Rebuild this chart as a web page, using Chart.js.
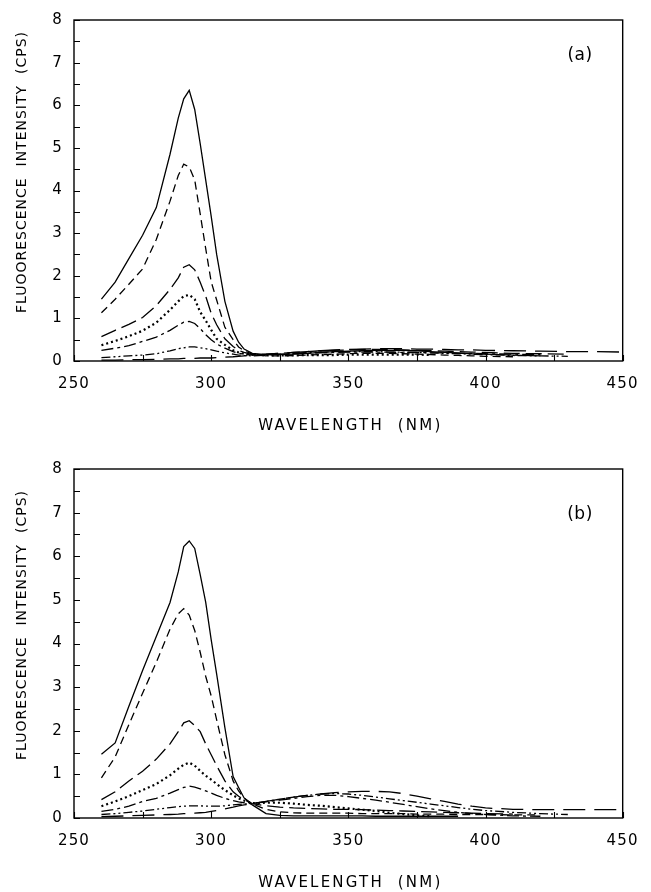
<!DOCTYPE html>
<html>
<head>
<meta charset="utf-8">
<script src="https://cdn.jsdelivr.net/npm/chart.js@4.4.1/dist/chart.umd.min.js"></script>
<style>
    body { margin: 0; background: #fff; }
    canvas { display: block; }
</style>
</head>
<body>
<canvas id="chartA" width="651" height="446"></canvas>
<canvas id="chartB" width="651" height="446"></canvas>
<script>
// wavelength grid (nm), shared by every curve
const wavelength = [260, 265, 270, 275, 280, 285, 288, 290, 292, 294, 296, 298, 300, 302, 305, 308, 310, 312, 315, 320,
    325, 330, 335, 340, 345, 350, 355, 360, 365, 370, 375, 380, 385, 390, 395, 400, 410, 420, 430, 440, 450];

const xTicks = [250, 300, 350, 400, 450];
const yTicks = [0, 1, 2, 3, 4, 5, 6, 7, 8];

// panel (a)
const a1 = [1.45, 1.85, 2.4, 2.95, 3.6, 4.85, 5.7, 6.15, 6.35, 5.9, 5.1, 4.25, 3.4, 2.5, 1.4, 0.7, 0.44, 0.28, 0.18, 0.15,
    0.15, 0.16, 0.18, 0.2, 0.22, 0.23, 0.24, 0.25, 0.25, 0.25, 0.24, 0.22, 0.2, 0.19, 0.17, 0.16, 0.14, 0.12];
const a2 = [1.13, 1.45, 1.8, 2.16, 2.85, 3.75, 4.35, 4.62, 4.55, 4.25, 3.45, 2.64, 1.86, 1.43, 0.79, 0.5, 0.33, 0.24, 0.16, 0.12,
    0.12, 0.13, 0.14, 0.15, 0.16, 0.17, 0.18, 0.18, 0.18, 0.17, 0.16, 0.15, 0.14, 0.13, 0.12, 0.11, 0.1];
const a3 = [0.57, 0.72, 0.86, 1.02, 1.3, 1.68, 1.95, 2.2, 2.26, 2.14, 1.85, 1.52, 1.12, 0.85, 0.52, 0.34, 0.25, 0.2, 0.15, 0.16,
    0.18, 0.2, 0.22, 0.24, 0.25, 0.26, 0.27, 0.27, 0.27, 0.26, 0.25, 0.24, 0.23, 0.22, 0.21, 0.2, 0.18, 0.17, 0.16];
const a4 = [0.37, 0.47, 0.58, 0.71, 0.9, 1.2, 1.4, 1.52, 1.55, 1.45, 1.15, 0.95, 0.73, 0.52, 0.38, 0.25, 0.2, 0.17, 0.15, 0.13,
    0.13, 0.13, 0.14, 0.14, 0.14, 0.15, 0.15, 0.15, 0.15, 0.15, 0.15, 0.14];
const a5 = [0.25, 0.3, 0.36, 0.46, 0.56, 0.72, 0.84, 0.91, 0.93, 0.88, 0.76, 0.62, 0.5, 0.4, 0.3, 0.22, 0.18, 0.16, 0.14, 0.15,
    0.16, 0.17, 0.18, 0.19, 0.2, 0.21, 0.21, 0.21, 0.21, 0.2, 0.2, 0.19, 0.19, 0.18, 0.18, 0.17, 0.16, 0.15];
const a6 = [0.08, 0.1, 0.12, 0.14, 0.17, 0.24, 0.29, 0.31, 0.33, 0.33, 0.31, 0.29, 0.26, 0.23, 0.19, 0.16, 0.14, 0.13, 0.12, 0.14,
    0.16, 0.18, 0.2, 0.21, 0.22, 0.22, 0.22, 0.22, 0.21, 0.21, 0.2, 0.19, 0.18, 0.17, 0.16, 0.15, 0.13, 0.12, 0.11];
const a7 = [0.02, 0.02, 0.03, 0.03, 0.04, 0.05, 0.05, 0.06, 0.06, 0.06, 0.07, 0.07, 0.07, 0.08, 0.09, 0.1, 0.11, 0.12, 0.13, 0.16,
    0.18, 0.2, 0.22, 0.24, 0.26, 0.27, 0.28, 0.29, 0.29, 0.29, 0.28, 0.28, 0.27, 0.26, 0.26, 0.25, 0.24, 0.23, 0.22, 0.22, 0.21];

// panel (b)
const b1 = [1.46, 1.72, 2.56, 3.38, 4.16, 4.94, 5.64, 6.22, 6.35, 6.18, 5.58, 4.95, 4.09, 3.3, 2.07, 0.95, 0.7, 0.46, 0.3, 0.1,
    0.06, 0.05, 0.05, 0.05, 0.05, 0.05, 0.05, 0.04, 0.04, 0.04, 0.04, 0.04, 0.04, 0.04];
const b2 = [0.92, 1.4, 2.14, 2.86, 3.57, 4.33, 4.68, 4.8, 4.65, 4.3, 3.8, 3.25, 2.8, 2.25, 1.45, 0.85, 0.62, 0.46, 0.32, 0.2,
    0.14, 0.12, 0.11, 0.11, 0.11, 0.11, 0.1, 0.1, 0.1, 0.1, 0.09, 0.09, 0.09, 0.08, 0.08, 0.08, 0.07, 0.07];
const b3 = [0.42, 0.6, 0.85, 1.07, 1.35, 1.7, 1.98, 2.18, 2.23, 2.12, 1.98, 1.7, 1.45, 1.2, 0.85, 0.6, 0.5, 0.42, 0.33, 0.28,
    0.25, 0.23, 0.22, 0.21, 0.2, 0.2, 0.19, 0.18, 0.17, 0.16, 0.15, 0.14, 0.13, 0.12, 0.11, 0.1, 0.09];
const b4 = [0.27, 0.38, 0.5, 0.64, 0.78, 0.98, 1.13, 1.22, 1.27, 1.2, 1.08, 0.97, 0.88, 0.78, 0.64, 0.52, 0.45, 0.4, 0.34, 0.35,
    0.35, 0.33, 0.3, 0.28, 0.25, 0.22, 0.19, 0.16, 0.12, 0.09, 0.06, 0.04];
const b5 = [0.15, 0.2, 0.27, 0.38, 0.45, 0.57, 0.65, 0.7, 0.73, 0.71, 0.67, 0.62, 0.57, 0.52, 0.45, 0.4, 0.37, 0.35, 0.33, 0.37,
    0.41, 0.45, 0.49, 0.52, 0.52, 0.49, 0.45, 0.41, 0.36, 0.31, 0.26, 0.21, 0.17, 0.13, 0.1, 0.08, 0.05, 0.04];
const b6 = [0.08, 0.1, 0.13, 0.16, 0.2, 0.24, 0.26, 0.27, 0.28, 0.28, 0.28, 0.27, 0.27, 0.27, 0.28, 0.3, 0.31, 0.32, 0.33, 0.38,
    0.43, 0.48, 0.52, 0.55, 0.56, 0.55, 0.52, 0.48, 0.44, 0.4, 0.36, 0.32, 0.28, 0.24, 0.2, 0.17, 0.13, 0.1, 0.08];
const b7 = [0.03, 0.04, 0.05, 0.06, 0.07, 0.08, 0.09, 0.1, 0.1, 0.11, 0.12, 0.13, 0.15, 0.17, 0.21, 0.25, 0.28, 0.3, 0.33, 0.38,
    0.43, 0.48, 0.52, 0.55, 0.58, 0.6, 0.61, 0.61, 0.6, 0.56, 0.5, 0.44, 0.38, 0.32, 0.27, 0.23, 0.2, 0.19, 0.19, 0.19, 0.19];

// one line style per curve, same order in both panels
const dashes = [[], [8, 5], [16, 6], [2, 3], [12, 4, 3, 4], [9, 3, 2, 3, 2, 3], [22, 9]];
const widths = [1.3, 1.3, 1.3, 2.2, 1.3, 1.3, 1.3];

Chart.defaults.font.family = "'DejaVu Sans', sans-serif";
Chart.defaults.font.size = 15;
Chart.defaults.color = '#000';

function toPoints(values) {
    let pts = [];
    wavelength.forEach((w, i) => {
        if (values[i] !== undefined && values[i] !== null) pts.push({ x: w, y: values[i] });
    });
    return pts;
}

function spaced(ctx, text, x, y, spacing) {
    ctx.letterSpacing = spacing + 'px';
    ctx.fillText(text, x, y);
}

// box, inward ticks, axis titles and panel letter
const framePlugin = {
    id: 'frame',
    beforeDraw(chart) {
        chart.ctx.letterSpacing = '1.2px';
    },
    afterDraw(chart, args, opts) {
        const ctx = chart.ctx;
        const area = chart.chartArea;
        const xs = chart.scales.x, ys = chart.scales.y;
        ctx.save();
        ctx.strokeStyle = '#000';
        ctx.lineWidth = 1.4;
        ctx.strokeRect(area.left, area.top, area.right - area.left, area.bottom - area.top);
        ctx.lineWidth = 1.1;
        ctx.beginPath();
        xs.ticks.forEach(t => {
            const px = Math.round(xs.getPixelForValue(t.value)) + 0.5;
            ctx.moveTo(px, area.bottom);
            ctx.lineTo(px, area.bottom - 6);
        });
        ys.ticks.forEach(t => {
            const py = Math.round(ys.getPixelForValue(t.value)) + 0.5;
            ctx.moveTo(area.left, py);
            ctx.lineTo(area.left + 6, py);
        });
        ctx.stroke();

        ctx.fillStyle = '#000';
        ctx.textAlign = 'center';
        ctx.textBaseline = 'middle';
        ctx.font = "15px 'DejaVu Sans'";
        spaced(ctx, 'WAVELENGTH  (NM)', (area.left + area.right) / 2 + 2, area.bottom + 65, 2.2);

        ctx.save();
        ctx.translate(22, area.top + opts.titleMid);
        ctx.rotate(-Math.PI / 2);
        ctx.font = "14px 'DejaVu Sans'";
        spaced(ctx, opts.yTitle, 0, 0, 1);
        ctx.restore();

        ctx.font = "17px 'DejaVu Sans'";
        spaced(ctx, opts.panel, 580, area.top + opts.panelY, 0.5);
        ctx.restore();
    }
};

function makePanel(id, series, panel, yTitle, top, panelY, titleMid) {
    const canvas = document.getElementById(id);
    const bottom = top + 349;
    return new Chart(canvas, {
        type: 'line',
        data: {
            datasets: series.map((s, i) => ({
                data: toPoints(s),
                borderColor: '#000',
                borderWidth: widths[i],
                borderDash: dashes[i],
                pointRadius: 0,
                tension: 0,
                fill: false
            }))
        },
        options: {
            responsive: false,
            animation: false,
            layout: { padding: { top: top, right: 25, left: 0, bottom: 0 } },
            plugins: {
                legend: { display: false },
                tooltip: { enabled: false },
                frame: { panel: panel, yTitle: yTitle, panelY: panelY, titleMid: titleMid }
            },
            scales: {
                x: {
                    type: 'linear',
                    min: 250,
                    max: 450,
                    border: { display: false },
                    grid: { display: false, drawTicks: false },
                    ticks: {
                        stepSize: 25,
                        autoSkip: false,
                        maxRotation: 0,
                        padding: 14,
                        callback: v => xTicks.includes(v) ? String(v) : ''
                    },
                    afterFit: scale => { scale.height = canvas.height - bottom; }
                },
                y: {
                    min: 0,
                    max: 8,
                    border: { display: false },
                    grid: { display: false, drawTicks: false },
                    ticks: {
                        stepSize: 0.5,
                        autoSkip: false,
                        padding: 11,
                        callback: v => yTicks.includes(v) ? String(v) : ''
                    },
                    afterFit: scale => { scale.width = 74; }
                }
            }
        },
        plugins: [framePlugin]
    });
}

makePanel('chartA', [a1, a2, a3, a4, a5, a6, a7], '(a)', 'FLUOORESCENCE  INTENSITY  (CPS)', 12, 36, 152);
makePanel('chartB', [b1, b2, b3, b4, b5, b6, b7], '(b)', 'FLUORESCENCE  INTENSITY  (CPS)', 23, 46, 156);
</script>
</body>
</html>
